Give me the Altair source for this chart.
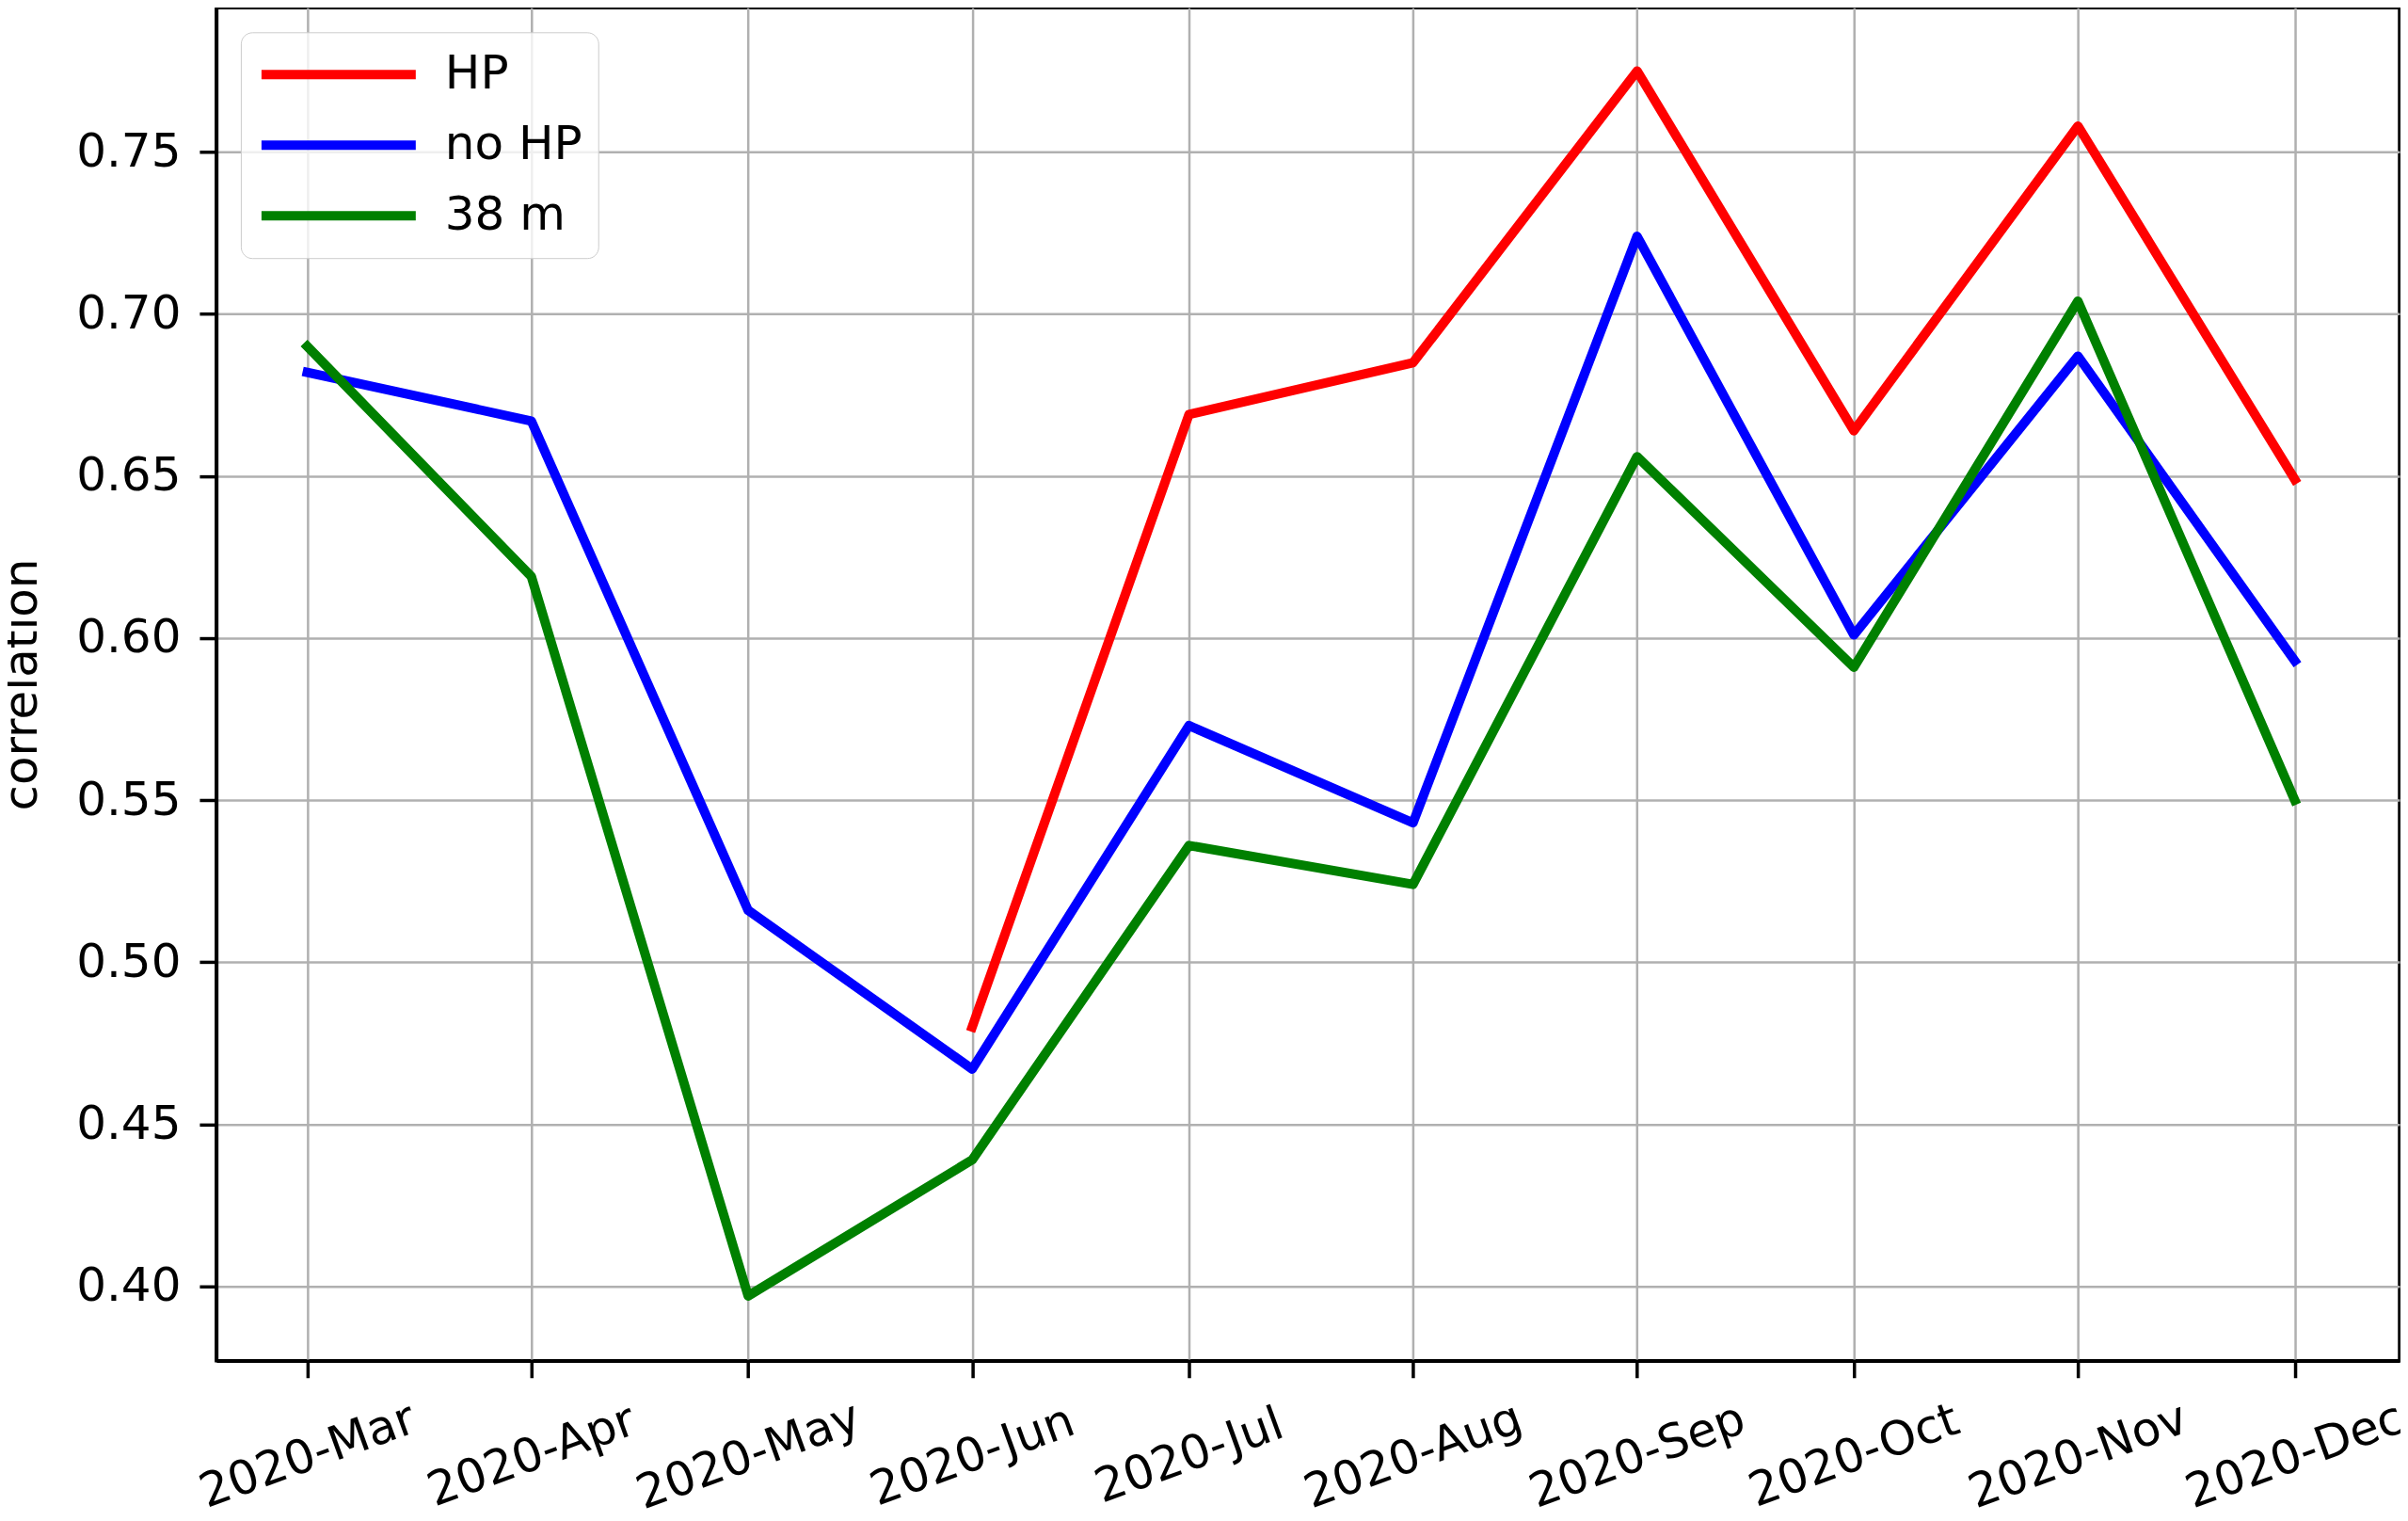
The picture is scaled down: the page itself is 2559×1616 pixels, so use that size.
import altair as alt
import pandas as pd

months = ["2020-03-01", "2020-04-01", "2020-05-01", "2020-06-01", "2020-07-01",
          "2020-08-01", "2020-09-01", "2020-10-01", "2020-11-01", "2020-12-01"]
hp = [None, None, None, 0.480, 0.669, 0.685, 0.775, 0.664, 0.758, 0.649]
no_hp = [0.682, 0.667, 0.516, 0.467, 0.573, 0.543, 0.724, 0.601, 0.687, 0.593]
m38 = [0.690, 0.619, 0.397, 0.439, 0.536, 0.524, 0.656, 0.591, 0.704, 0.550]
series_names = ["HP", "no HP", "38 m"]
series_colors = ["#ff0000", "#0000ff", "#008000"]
series_widths = [10, 10, 2.5]
y_ticks = [0.40, 0.45, 0.50, 0.55, 0.60, 0.65, 0.70, 0.75]

rows = []
for name, vals in zip(series_names, [hp, no_hp, m38]):
    for m, v in zip(months, vals):
        if v is not None:
            rows.append({"date": m, "value": v, "series": name})
df = pd.DataFrame(rows)

FONT = "DejaVu Sans"

legend = alt.Legend(
    orient="none", legendX=26, legendY=26,
    symbolType="stroke", symbolSize=164 * 164, clipHeight=56,
    rowPadding=19, padding=17, labelOffset=26,
    labelFont=FONT, labelFontSize=50, labelColor="black",
    fillColor="rgba(255,255,255,0.8)", strokeColor="#cccccc", cornerRadius=12,
)

chart = alt.Chart(df).mark_line(strokeJoin="round", strokeCap="square").encode(
    x=alt.X(
        "date:T",
        title=None,
        scale=alt.Scale(
            type="utc", nice=False,
            domain=[alt.DateTime(year=2020, month=2, date=17, hours=10, utc=True),
                    alt.DateTime(year=2020, month=12, date=15, hours=12, utc=True)],
        ),
        axis=alt.Axis(
            labelExpr="utcFormat(datum.value, '%Y-%b')",
            tickCount={"interval": "month", "step": 1},
            labelAngle=340, labelAlign="center", labelBaseline="middle",
            labelPadding=83, labelFlush=False, labelOverlap=False, labelBound=False,
            labelLimit=0,
        ),
    ),
    y=alt.Y(
        "value:Q",
        title="correlation",
        scale=alt.Scale(domain=[0.377, 0.7945], nice=False, zero=False),
        axis=alt.Axis(values=y_ticks, format=".2f", labelPadding=20,
                      titlePadding=32, labelFlush=False, labelOverlap=False),
    ),
    color=alt.Color("series:N", title=None,
                    scale=alt.Scale(domain=series_names, range=series_colors),
                    legend=legend),
    strokeWidth=alt.StrokeWidth("series:N", title=None,
                                scale=alt.Scale(domain=series_names, range=series_widths),
                                legend=legend),
).properties(
    width=2321, height=1438,
    padding={"left": -10, "top": 0, "right": -10, "bottom": 0},
).configure_view(
    stroke="black", strokeWidth=3.5,
).configure_axis(
    domainColor="black", domainWidth=3.5,
    tickColor="black", tickWidth=3.5, tickSize=18,
    gridColor="#b0b0b0", gridWidth=2.5, grid=True,
    labelFont=FONT, labelFontSize=50, labelColor="black",
    titleFont=FONT, titleFontSize=50, titleFontWeight="normal", titleColor="black",
)

chart.save("out.html", embed_options={"renderer": "svg", "actions": False})
